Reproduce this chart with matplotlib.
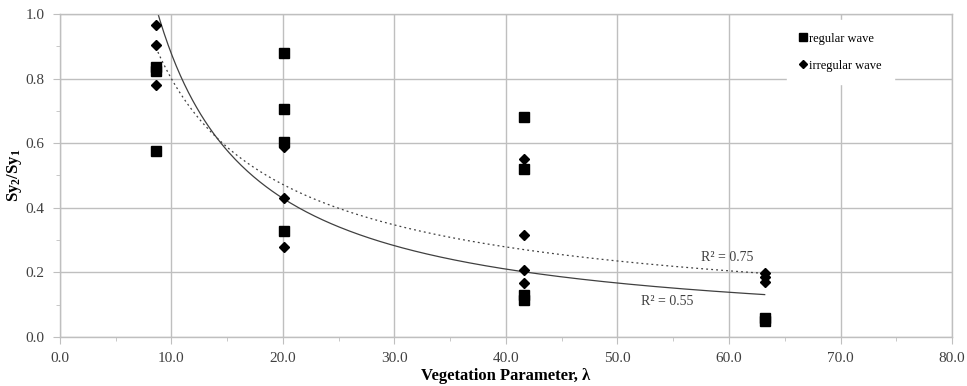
# 植被参数与 Sy2/Sy1 散点图（含幂函数趋势线）
import matplotlib
matplotlib.use('Agg')
import matplotlib.pyplot as plt
import numpy as np
from matplotlib.ticker import MultipleLocator, FormatStrFormatter

plt.rcParams['font.family'] = ['Liberation Serif', 'DejaVu Serif']
plt.rcParams['mathtext.fontset'] = 'custom'
plt.rcParams['mathtext.rm'] = 'Liberation Serif'
plt.rcParams['mathtext.bf'] = 'Liberation Serif:bold'

# 数据
regular_x = [8.6, 8.6, 8.6, 20.1, 20.1, 20.1, 20.1, 41.6, 41.6, 41.6, 41.6, 63.2, 63.2]
regular_y = [0.835, 0.825, 0.575, 0.880, 0.706, 0.605, 0.328, 0.682, 0.520, 0.130, 0.115, 0.060, 0.048]

irregular_x = [8.6, 8.6, 8.6, 20.1, 20.1, 20.1, 41.6, 41.6, 41.6, 41.6, 63.2, 63.2, 63.2]
irregular_y = [0.965, 0.905, 0.780, 0.589, 0.430, 0.279, 0.552, 0.315, 0.207, 0.168, 0.198, 0.185, 0.171]

# 幂函数趋势线 y = a * x^b
solid_a, solid_b = 9.39, -1.03      # R² = 0.55
dotted_a, dotted_b = 4.60, -0.76    # R² = 0.75
fit_range = (8.6, 63.2)

grid_color = '#bfbfbf'
text_color = '#404040'

fig = plt.figure(figsize=(9.67, 3.86), dpi=100)
ax = fig.add_axes([0.062, 0.127, 0.9225, 0.8367])

xs = np.linspace(fit_range[0], fit_range[1], 300)
ax.plot(xs, solid_a * xs ** solid_b, color='#404040', lw=0.9, zorder=2)
ax.plot(xs, dotted_a * xs ** dotted_b, color='#404040', lw=0.9, ls=(0, (1.5, 2.5)), zorder=2)

ax.plot(regular_x, regular_y, 's', color='black', markersize=7.5, ls='none', label='regular wave', zorder=3)
ax.plot(irregular_x, irregular_y, 'D', color='black', markersize=5, ls='none', label='irregular wave', zorder=3)

# R² 标注
ax.text(57.5, 0.245, 'R² = 0.75', fontsize=10, color=text_color, ha='left', va='center')
ax.text(52.1, 0.11, 'R² = 0.55', fontsize=10, color=text_color, ha='left', va='center')

# 坐标轴设置
ax.set_xlim(0, 80)
ax.set_ylim(0, 1.0)
ax.xaxis.set_major_locator(MultipleLocator(10))
ax.xaxis.set_minor_locator(MultipleLocator(5))
ax.yaxis.set_major_locator(MultipleLocator(0.2))
ax.yaxis.set_minor_locator(MultipleLocator(0.1))
ax.xaxis.set_major_formatter(FormatStrFormatter('%.1f'))
ax.yaxis.set_major_formatter(FormatStrFormatter('%.1f'))
ax.grid(True, which='major', color=grid_color, lw=1.0, zorder=0)
ax.set_axisbelow(True)
for spine in ax.spines.values():
    spine.set_color(grid_color)
    spine.set_linewidth(1.0)
ax.tick_params(which='both', direction='out', color=grid_color, labelcolor=text_color, labelsize=11)
ax.tick_params(which='major', length=5, pad=6)
ax.tick_params(which='minor', length=3)
ax.tick_params(axis='x', which='both', top=False)
ax.tick_params(axis='y', which='both', right=False)

ax.set_xlabel('Vegetation Parameter, λ', fontsize=12, fontweight='bold', labelpad=2)
ax.set_ylabel(r'$\mathbf{Sy_2/Sy_1}$', fontsize=12, labelpad=1)

leg = ax.legend(loc='upper right', bbox_to_anchor=(0.9425, 1.0), frameon=True, fontsize=9,
                handlelength=0.6, handletextpad=0.2, labelspacing=1.2, borderpad=1.0,
                fancybox=False, markerscale=0.75)
leg.get_frame().set_edgecolor('white')
leg.get_frame().set_facecolor('white')
leg.get_frame().set_alpha(1.0)

plt.savefig('out.png', dpi=100)
